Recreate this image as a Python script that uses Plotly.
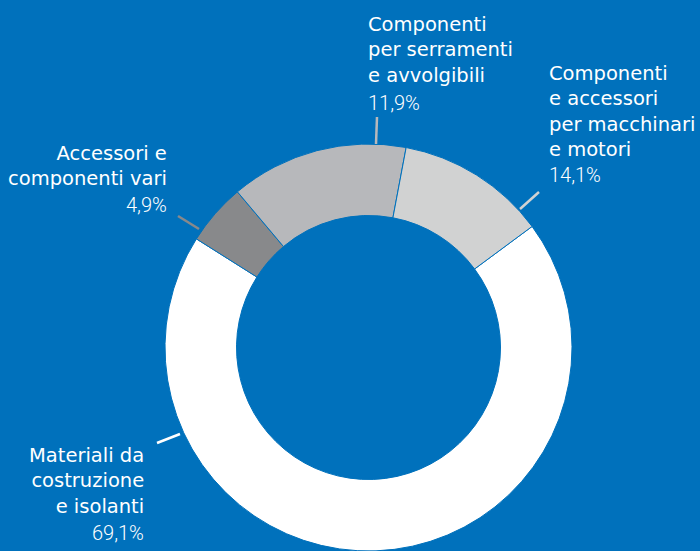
import plotly.graph_objects as go

# ---- data (slice order clockwise as drawn) ----
categories = [
    "Materiali da costruzione e isolanti",
    "Accessori e componenti vari",
    "Componenti e accessori per macchinari e motori",
    "Componenti per serramenti e avvolgibili",
]
name_lines = [
    ["Materiali da", "costruzione", "e isolanti"],
    ["Accessori e", "componenti vari"],
    ["Componenti", "e accessori", "per macchinari", "e motori"],
    ["Componenti", "per serramenti", "e avvolgibili"],
]
values = [69.1, 4.9, 14.1, 11.9]
pct_labels = ["69,1%", "4,9%", "14,1%", "11,9%"]

# ---- styles ----
W, H = 700, 551
BG = "#0071bc"
slice_colors = ["#ffffff", "#88898b", "#b7b8bb", "#d1d2d2"]
NAME_FONT = "DejaVu Sans"
PCT_FONT = "Roboto"


def px(x):
    return x / W


def py(y):
    return 1 - y / H


# label layout: (x, anchor, names middle y, pct middle y, leader line pts, leader color)
label_style = [
    (146, "right", 481, 533, (157, 443, 180, 434), "#ffffff"),
    (169, "right", 166, 205, (178, 216, 199, 229), "#88898b"),
    (546.5, "left", 111, 175, (539, 192, 520, 209), "#d1d2d2"),
    (365.5, "left", 50, 103, (377, 117, 376, 144), "#b7b8bb"),
]

cx, cy, R = 368.5, 347.5, 203.5

fig = go.Figure(
    go.Pie(
        labels=categories,
        values=values,
        sort=False,
        direction="clockwise",
        rotation=53.5,
        hole=132 / R,
        marker=dict(colors=slice_colors, line=dict(color=BG, width=1)),
        textinfo="none",
        hoverinfo="label+percent",
        showlegend=False,
        domain=dict(x=[px(cx - R), px(cx + R)], y=[py(cy + R), py(cy - R)]),
    )
)

annotations = []
shapes = []
for i, cat in enumerate(categories):
    x, anchor, ny, pyy, (x0, y0, x1, y1), lc = label_style[i]
    annotations.append(dict(
        text="<br>".join(name_lines[i]), x=px(x), y=py(ny), xref="paper", yref="paper",
        xanchor=anchor, yanchor="middle", align=anchor, showarrow=False,
        font=dict(family=NAME_FONT, size=19.5, color="#ffffff"),
    ))
    annotations.append(dict(
        text=pct_labels[i], x=px(x), y=py(pyy), xref="paper", yref="paper",
        xanchor=anchor, yanchor="middle", align=anchor, showarrow=False,
        font=dict(family=PCT_FONT, size=20, color="#ffffff", weight=300),
    ))
    shapes.append(dict(
        type="line", xref="paper", yref="paper",
        x0=px(x0), y0=py(y0), x1=px(x1), y1=py(y1),
        line=dict(color=lc, width=2.5),
    ))

fig.update_layout(
    width=W, height=H,
    margin=dict(l=0, r=0, t=0, b=0),
    paper_bgcolor=BG, plot_bgcolor=BG,
    annotations=annotations, shapes=shapes,
)

fig.write_html(
    "out.html",
    config={"displayModeBar": False},
    post_script="document.body.style.margin='0';document.body.style.overflow='hidden';",
)
